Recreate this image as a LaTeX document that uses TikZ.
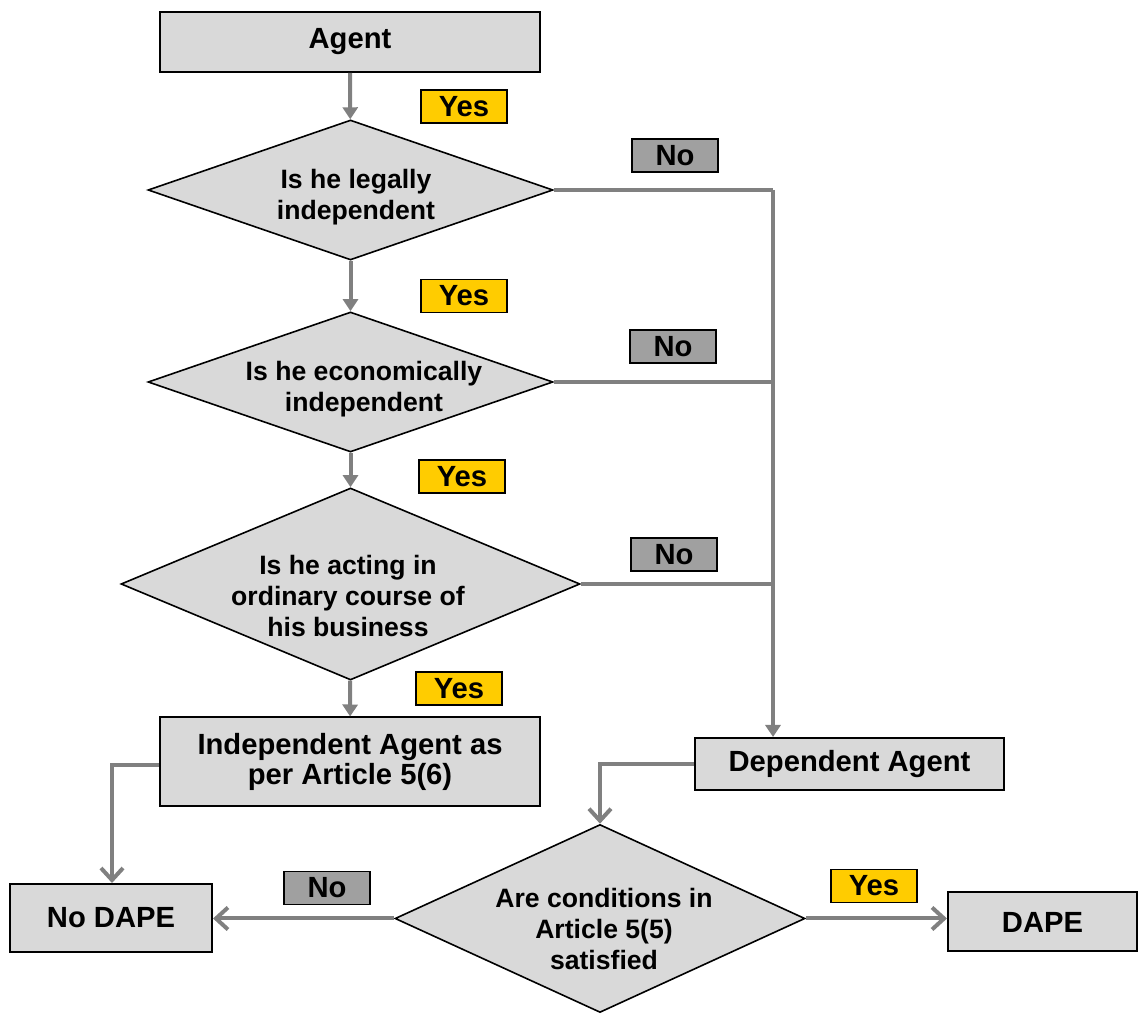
\documentclass[tikz,border=0pt]{standalone}
\usepackage{fontspec}
\setmainfont{Liberation Sans}
\usetikzlibrary{shapes.geometric,arrows.meta}
\definecolor{boxgray}{HTML}{D9D9D9}
\definecolor{nogray}{HTML}{A0A0A0}
\definecolor{yesyellow}{HTML}{FFCC00}
\definecolor{linegray}{HTML}{808080}
\begin{document}
\begin{tikzpicture}[x=0.5pt,y=-0.5pt,
  every node/.style={font=\fontsize{14.6}{14.6}\selectfont\bfseries},
  stepbox/.style={draw=black,line width=1pt,fill=boxgray,align=center,inner sep=0pt},
  decision/.style={diamond,draw=black,line width=0.8pt,fill=boxgray,inner sep=0pt},
  dtext/.style={align=center,inner sep=0pt,font=\fontsize{13.3}{15.5}\selectfont\bfseries},
  yeslbl/.style={draw=black,line width=0.8pt,fill=yesyellow,minimum width=43pt,minimum height=16.5pt,inner sep=0pt},
  nolbl/.style={draw=black,line width=0.8pt,fill=nogray,minimum width=43pt,minimum height=16.5pt,inner sep=0pt},
  flow/.style={draw=linegray,line width=2pt,-{Triangle[length=6pt,width=7.5pt]}},
  barbline/.style={draw=linegray,line width=2pt,-{Straight Barb[length=6pt,width=11pt]}},
  plain/.style={draw=linegray,line width=2pt}]
\useasboundingbox (0,0) rectangle (1147,1015);

% boxes
\node[stepbox,minimum width=190pt,minimum height=30pt] (agent) at (350,42) {Agent};
\node[stepbox,minimum width=190pt,minimum height=44.5pt] (indep) at (350,762) {Independent Agent as\\per Article 5(6)};
\node[stepbox,minimum width=154.5pt,minimum height=26pt] (dep) at (849.5,764) {Dependent Agent};
\node[stepbox,minimum width=101pt,minimum height=34pt] (nodape) at (111,918) {No DAPE};
\node[stepbox,minimum width=94.5pt,minimum height=29.5pt] (dape) at (1042.5,922) {DAPE};

% decisions
\node[decision,minimum width=202.5pt,minimum height=70pt] (d1) at (350.5,190) {};
\node[dtext] (t1) at (356,197) {Is he legally\\independent};
\node[decision,minimum width=202.5pt,minimum height=70pt] (d2) at (350.5,382) {};
\node[dtext] (t2) at (364,389) {Is he economically\\independent};
\node[decision,minimum width=229.5pt,minimum height=96pt] (d3) at (350.5,584) {};
\node[dtext] (t3) at (348,596) {Is he acting in\\ordinary course of\\his business};
\node[decision,minimum width=205pt,minimum height=94pt] (d4) at (600,918.5) {};
\node[dtext] (t4) at (604,929) {Are conditions in\\Article 5(5)\\satisfied};

% yes / no labels
\node[yeslbl] (y1) at (464,106.5) {Yes};
\node[yeslbl] (y2) at (464,296) {Yes};
\node[yeslbl] (y3) at (462,476.5) {Yes};
\node[yeslbl] (y4) at (459,688.5) {Yes};
\node[yeslbl] (y5) at (874,886) {Yes};
\node[nolbl] (n1) at (675,155.5) {No};
\node[nolbl] (n2) at (673,346.5) {No};
\node[nolbl] (n3) at (674,554.5) {No};
\node[nolbl] (n4) at (327,888) {No};

% main yes chain
\draw[flow] (agent) -- (d1);
\draw[flow] (d1) -- (d2);
\draw[flow] (d2) -- (d3);
\draw[flow] (d3) -- (indep);

% "No" branches gathered on one vertical line
\coordinate (bus) at (773,190);
\draw[plain] (d1.east) -- (bus);
\draw[plain] (d2.east) -- (bus |- d2.east);
\draw[plain] (d3.east) -- (bus |- d3.east);
\draw[flow] (bus) -- (bus |- dep.north);

% lower part
\coordinate (ia) at (112,765);
\draw[barbline] (indep.west |- ia) -- (ia) -- (ia |- nodape.north);
\coordinate (da) at (600,764);
\draw[barbline] (dep.west) -- (da) -- (d4.north);
\draw[barbline] (d4.west) -- (nodape.east |- d4.west);
\draw[barbline] (d4.east) -- (dape.west |- d4.east);
\end{tikzpicture}
\end{document}
